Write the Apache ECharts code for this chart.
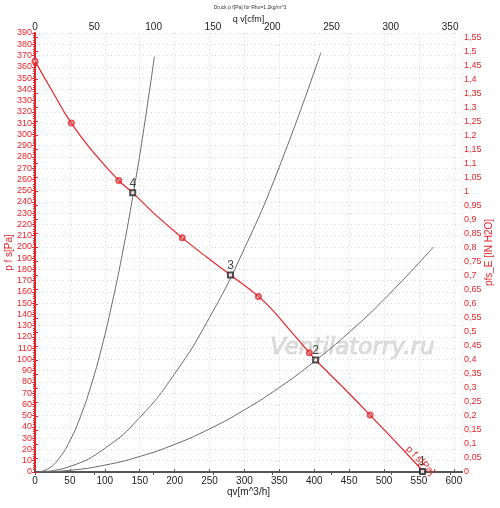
<!DOCTYPE html>
<html>
<head>
<meta charset="utf-8">
<script src="https://cdn.jsdelivr.net/npm/echarts@6/dist/echarts.min.js"></script>
<style>
    html, body {margin: 0; padding: 0; background: #fff;}
    #main {width: 500px; height: 508px;}
</style>
</head>
<body>
<div id="main"></div>
<script>
// 风机曲线 p f s [Pa] 对 q v [m^3/h]
var fanQ = [0, 25, 52, 85, 120, 140, 170, 211, 250, 280, 320, 340, 365, 393, 402, 440, 480, 520, 557];
var fanP = [365, 338, 310, 283, 259, 248, 230, 208, 189, 175, 156, 144, 126, 106, 99.5, 76, 50.6, 24.5, 0];

// 曲线上的圆形标记
var markQ = [0, 52, 120, 211, 320, 393, 480];
var markP = [365, 310, 259, 208, 156, 106, 50.6];

// 系统曲线
var sys1Q = [5, 20, 35, 50, 65, 80, 95, 110, 125, 140, 155, 171];
var sys1P = [0, 3.3, 12.6, 27.8, 49, 76.2, 109.3, 148.6, 193.5, 244.6, 301.3, 369];
var sys2Q = [5, 50, 100, 150, 200, 250, 300, 350, 409.5];
var sys2P = [0, 4.9, 21, 48.4, 87.2, 137.3, 198.6, 271.2, 372.5];
var sys3Q = [5, 50, 100, 150, 200, 250, 300, 350, 400, 450, 500, 571];
var sys3P = [0, 1.5, 6.1, 13.8, 24.5, 38.3, 55.2, 75.1, 98.1, 124.1, 153.3, 200];

// 工作点
var opQ = [555, 402, 280, 140];
var opP = [0.5, 99.5, 175, 248];
var opName = ['1', '2', '3', '4'];

var PA_PER_INH2O = 249.089;
var M3H_PER_CFM = 1.69901;
var pMax = 390;
var cfmMax = 360;

function pairs(xs, ys) {
    var out = [];
    for (var i = 0; i < xs.length; i++) {
        out.push([xs[i], ys[i]]);
    }
    return out;
}

var red = '#e3262b';
var font = 'Liberation Sans, Arial, sans-serif';

var chart = echarts.init(document.getElementById('main'));

var option = {
    backgroundColor: '#fff',
    animation: false,
    title: {
        text: 'Druck p f[Pa] für Rho=1,2kg/m^3',
        left: 'center',
        top: 5,
        padding: 0,
        textStyle: {fontSize: 5, fontWeight: 'normal', color: '#333', fontFamily: font}
    },
    grid: {left: 35, right: 38, top: 33, bottom: 36, containLabel: false, outerBoundsMode: 'none'},
    xAxis: [
        {
            type: 'value',
            position: 'bottom',
            min: 0,
            max: cfmMax * M3H_PER_CFM,
            interval: 50,
            name: 'qv[m^3/h]',
            nameLocation: 'middle',
            nameGap: 15,
            nameMoveOverlap: false,
            nameTextStyle: {color: '#222', fontSize: 10, fontFamily: font},
            axisLine: {lineStyle: {color: '#555', width: 2}},
            axisTick: {show: true, inside: true, length: 3, lineStyle: {color: '#555'}},
            axisLabel: {color: '#222', fontSize: 10, fontFamily: font, margin: 4, showMaxLabel: false},
            splitLine: {show: true, lineStyle: {color: '#d4d4d4', type: [1, 3], width: 1}}
        },
        {
            type: 'value',
            position: 'top',
            min: 0,
            max: cfmMax,
            interval: 50,
            name: 'q v[cfm]',
            nameLocation: 'middle',
            nameGap: 9,
            nameMoveOverlap: false,
            nameTextStyle: {color: '#222', fontSize: 9, fontFamily: font},
            axisLine: {lineStyle: {color: '#555', width: 2}},
            axisTick: {show: true, inside: true, length: 3, lineStyle: {color: '#555'}},
            axisLabel: {color: '#222', fontSize: 10, fontFamily: font, margin: 1, showMaxLabel: false},
            splitLine: {show: false}
        }
    ],
    yAxis: [
        {
            type: 'value',
            position: 'left',
            min: 0,
            max: pMax,
            interval: 10,
            name: 'p f s[Pa]',
            nameLocation: 'middle',
            nameRotate: 90,
            nameGap: 21,
            nameMoveOverlap: false,
            nameTextStyle: {color: red, fontSize: 10, fontFamily: font},
            axisLine: {lineStyle: {color: red, width: 2}},
            axisTick: {show: true, length: 3, lineStyle: {color: red}},
            minorTick: {show: true, splitNumber: 5, length: 2, lineStyle: {color: red}},
            axisLabel: {color: red, fontSize: 9, fontFamily: font, margin: 3},
            splitLine: {show: true, lineStyle: {color: '#d4d4d4', type: [1, 3], width: 1}}
        },
        {
            type: 'value',
            position: 'right',
            min: 0,
            max: pMax / PA_PER_INH2O,
            interval: 0.05,
            name: 'pfs_E [IN H2O]',
            nameLocation: 'middle',
            nameRotate: 90,
            nameGap: 22,
            nameMoveOverlap: false,
            nameTextStyle: {color: red, fontSize: 10, fontFamily: font},
            axisLine: {lineStyle: {color: red, width: 2}},
            axisTick: {show: true, length: 3, lineStyle: {color: red}},
            axisLabel: {
                color: red, fontSize: 9, fontFamily: font, margin: 2, showMaxLabel: false,
                formatter: function (v) {
                    return String(Math.round(v * 100) / 100).replace('.', ',');
                }
            },
            splitLine: {show: false}
        }
    ],
    graphic: [
        {
            type: 'text',
            left: 270,
            top: 336,
            z: 1,
            style: {
                text: 'Ventilatorry.ru',
                font: 'italic 23px "DejaVu Sans", sans-serif',
                fill: '#dcdcdc',
                stroke: '#bdbdbd',
                lineWidth: 0.6
            }
        },
        {
            type: 'text',
            x: 411,
            y: 444,
            rotation: -0.8,
            z: 10,
            style: {
                text: 'p f s[Pa]',
                font: '10px ' + font,
                fill: red
            }
        }
    ],
    series: [
        {
            name: 'sys1', type: 'line', smooth: true, symbol: 'none',
            lineStyle: {color: '#6a6a6a', width: 1},
            data: pairs(sys1Q, sys1P)
        },
        {
            name: 'sys2', type: 'line', smooth: true, symbol: 'none',
            lineStyle: {color: '#6a6a6a', width: 1},
            data: pairs(sys2Q, sys2P)
        },
        {
            name: 'sys3', type: 'line', smooth: true, symbol: 'none',
            lineStyle: {color: '#6a6a6a', width: 1},
            data: pairs(sys3Q, sys3P)
        },
        {
            name: 'p f s[Pa]', type: 'line', smooth: true, symbol: 'none',
            lineStyle: {color: red, width: 1.2},
            data: pairs(fanQ, fanP)
        },
        {
            name: 'marks', type: 'scatter', symbol: 'emptyCircle', symbolSize: 5,
            itemStyle: {color: red, borderColor: red, borderWidth: 1.2},
            data: pairs(markQ, markP)
        },
        {
            name: 'op', type: 'scatter', symbol: 'emptyRect', symbolSize: 5, z: 5,
            itemStyle: {color: '#222', borderColor: '#222', borderWidth: 0.8},
            label: {
                show: true, position: 'top', distance: 0,
                color: '#111', fontSize: 12, fontFamily: font,
                formatter: function (p) {
                    return opName[p.dataIndex];
                }
            },
            data: pairs(opQ, opP)
        }
    ]
};

chart.setOption(option);
</script>
</body>
</html>
